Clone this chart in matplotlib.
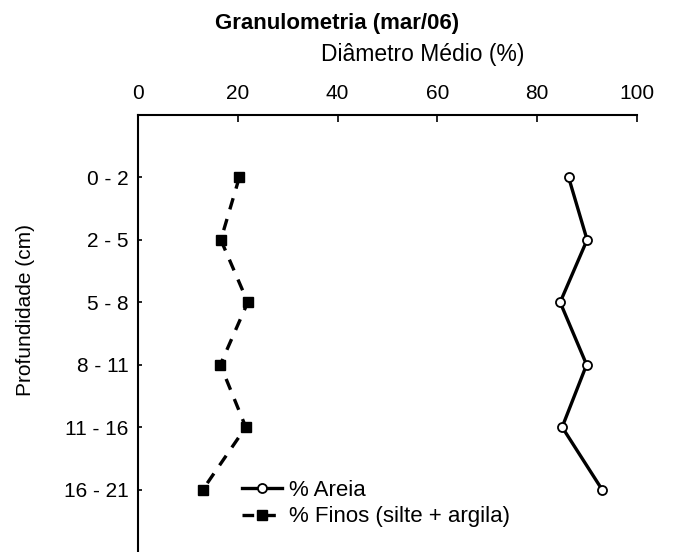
import matplotlib.pyplot as plt

plt.rcParams['font.family'] = ['Liberation Sans', 'DejaVu Sans']

# Dados
profundidade = ['0 - 2', '2 - 5', '5 - 8', '8 - 11', '11 - 16', '16 - 21']
areia = [86.3, 90.0, 84.6, 89.9, 85.0, 93.0]
finos = [20.3, 16.6, 22.0, 16.5, 21.6, 13.0]
ticks_x = [0, 20, 40, 60, 80, 100]

fig = plt.figure(figsize=(6.73, 5.52), dpi=100)
ax = fig.add_axes([138 / 673, 0.0, 499 / 673, 1 - 115 / 552])

pos = list(range(len(profundidade)))
ax.plot(areia, pos, color='black', lw=2.4, marker='o', ms=6.5,
        mfc='white', mec='black', mew=1.3, label='% Areia')
ax.plot(finos, pos, color='black', lw=2.4, ls=(0, (3.5, 3)), marker='s', ms=6.5,
        mfc='black', mec='black', label='% Finos (silte + argila)')

ax.set_xlim(0, 100)
ax.set_ylim(6, -1)
ax.set_xticks(ticks_x)
ax.set_yticks(pos)
ax.set_yticklabels(profundidade)
ax.xaxis.tick_top()
ax.tick_params(axis='x', direction='in', length=5, width=1.2, labelsize=15, pad=8.5)
ax.tick_params(axis='y', direction='in', length=3, width=1.2, labelsize=15, pad=7)
ax.spines['right'].set_visible(False)
ax.spines['bottom'].set_visible(False)
ax.spines['left'].set_linewidth(1.5)
ax.spines['top'].set_linewidth(1.5)

fig.text(26 / 673, 1 - 310 / 552, 'Profundidade (cm)', rotation=90,
         ha='center', va='center', fontsize=15)
fig.text(423 / 673, 1 - 55 / 552, 'Diâmetro Médio (%)', ha='center', va='center', fontsize=16.5)
fig.text(337 / 673, 1 - 23 / 552, 'Granulometria (mar/06)', ha='center', va='center',
         fontsize=16, fontweight='bold')

ax.legend(loc='center left', bbox_to_anchor=(242 / 673, 1 - 503.5 / 552),
          bbox_transform=fig.transFigure, frameon=False, fontsize=16,
          handlelength=1.8, handletextpad=0.3, labelspacing=0.25,
          borderaxespad=0, borderpad=0)

fig.savefig('out.png', dpi=100)
